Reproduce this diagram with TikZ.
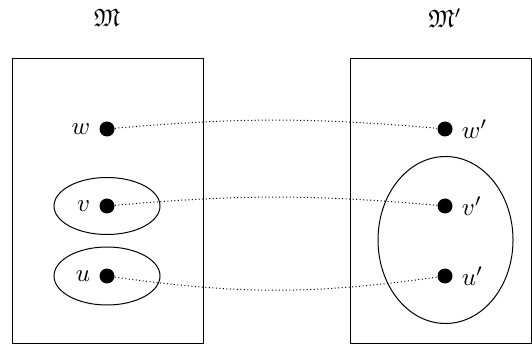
\documentclass[tikz,border=0pt]{standalone}
\usepackage{amssymb}
\usetikzlibrary{shapes.geometric}
\begin{document}
\begin{tikzpicture}
    [x=0.4pt, y=-0.4pt,
     point/.style={circle, fill=black,
       inner sep=0pt, minimum size=6pt},
     structure/.style={draw, inner sep=0pt, minimum height=113.6pt},
     class/.style={draw, ellipse, inner sep=0pt},
     link/.style={densely dotted}]
    \useasboundingbox (0,0) rectangle (532,345);

    % the two structures
    \node[structure, minimum width=76pt] (M) at (108,201) {};
    \node[structure, minimum width=72.4pt] (M2) at (440.5,201) {};
    \node (Mname) at (107,18) {$\mathfrak{M}$};
    \node (M2name) at (445,18) {$\mathfrak{M}'$};

    \foreach \n/\y in {w/129, v/206, u/276}
    {
      \node[point, label=left:$\n$] (\n) at (107,\y) {};
      \node[point, label=right:$\n'$] (\n2) at (445,\y) {};
    }

    % classes
    \node[class, minimum width=42.4pt, minimum height=22.8pt] (vclass) at (v) {};
    \node[class, minimum width=42.4pt, minimum height=23.2pt] (uclass) at (u) {};
    \node[class, minimum width=54pt, minimum height=66.8pt] (v2class) at (445.5,240) {};

    \draw[link] (w) to[bend left=5] (w2);
    \draw[link] (v) to[bend left=5] (v2);
    \draw[link] (u) to[bend right=8] (u2);
  \end{tikzpicture}
\end{document}
